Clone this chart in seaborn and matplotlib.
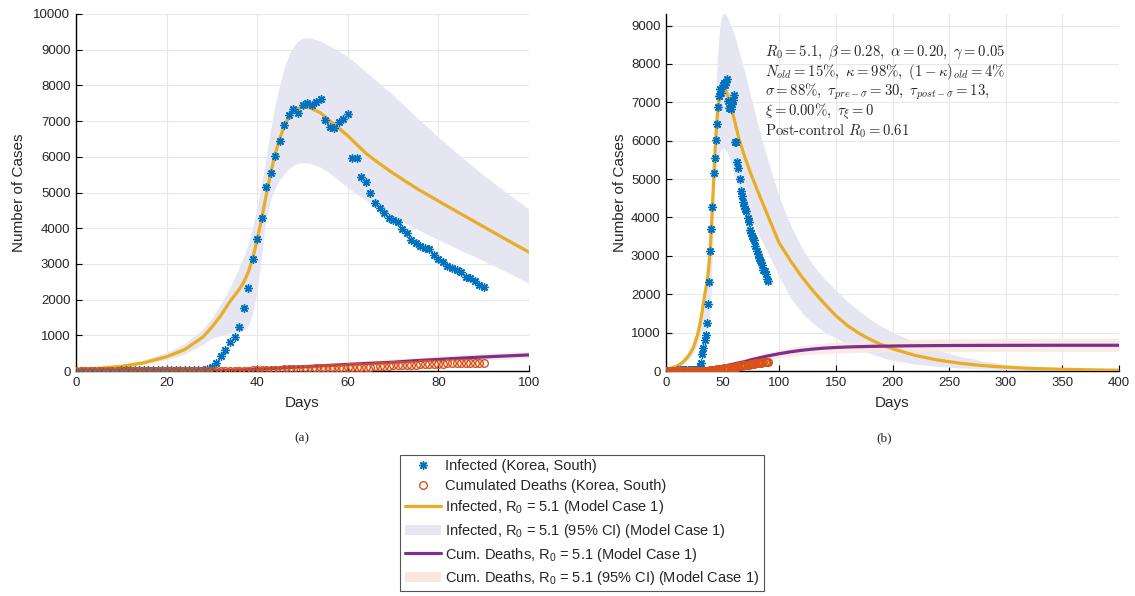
import numpy as np
import pandas as pd
import matplotlib
matplotlib.use("Agg")
import matplotlib.pyplot as plt
import seaborn as sns
from matplotlib.lines import Line2D
from matplotlib.patches import Patch

# ---------------- data ----------------
obs_days = list(range(0, 91))
infected_obs = [1, 1, 2, 2, 3, 4, 4, 4, 11, 12, 15, 15, 16, 19, 23, 24, 24, 25, 27, 28,
                28, 28, 28, 28, 29, 30, 31, 31, 31, 51,
                100, 215, 430, 600, 820, 950, 1240, 1755, 2315, 3130,
                3700, 4280, 5160, 5555, 6020, 6440, 6890, 7170, 7340, 7235,
                7450, 7500, 7450, 7540, 7610, 7030, 6845, 6815, 6965, 7050,
                7190, 5975, 5975, 5440, 5300, 4995, 4700, 4555, 4415, 4295,
                4230, 4175, 3985, 3875, 3670, 3595, 3510, 3455, 3415, 3250,
                3135, 3045, 2940, 2885, 2830, 2765, 2640, 2595, 2520, 2400,
                2345]
deaths_obs = [0] * 30 + [1, 2, 2, 6, 8, 10, 12, 13, 13, 16,
                         17, 28, 28, 35, 35, 42, 44, 50, 53, 54,
                         60, 66, 66, 72, 75, 75, 81, 84, 91, 94,
                         102, 104, 111, 111, 120, 126, 131, 139, 144, 152,
                         158, 162, 165, 169, 174, 177, 183, 186, 192, 200,
                         204, 208, 211, 214, 217, 222, 225, 229, 230, 232,
                         234]

model_days = [0, 5, 10, 15, 20, 24, 28, 30, 32, 34, 36,
              37, 38, 39, 40, 41, 42, 43, 44, 45, 46, 47, 48, 49, 50, 51, 52,
              54, 56, 58, 60, 62, 64, 66, 68, 70,
              75, 80, 85, 90, 95, 100,
              110, 120, 130, 140, 150, 160, 170, 180, 190, 200,
              220, 240, 260, 280, 300, 325, 350, 375, 400]
infected_model = [40, 75, 130, 230, 400, 600, 950, 1230, 1560, 1950, 2280,
                  2480, 2760, 3150, 3680, 4280, 4930, 5560, 6090, 6520, 6860, 7110, 7280, 7360, 7390, 7385, 7350,
                  7230, 7010, 6800, 6590, 6340, 6100, 5900, 5720, 5540,
                  5130, 4760, 4400, 4040, 3680, 3330,
                  2870, 2450, 2080, 1750, 1440, 1190, 990, 825, 690, 580,
                  405, 285, 200, 140, 100, 65, 45, 30, 20]
infected_upper = [60, 100, 170, 290, 500, 750, 1150, 1450, 1850, 2300, 2850,
                  3150, 3500, 3950, 4500, 5150, 5900, 6700, 7400, 7950, 8450, 8800, 9050, 9220, 9300, 9320, 9310,
                  9230, 9100, 8960, 8800, 8600, 8380, 8160, 7940, 7730,
                  7130, 6550, 6000, 5480, 5000, 4530,
                  3800, 3200, 2750, 2400, 2100, 1820, 1580, 1350, 1170, 1010,
                  750, 540, 380, 260, 170, 100, 60, 40, 25]
infected_lower = [25, 55, 95, 170, 300, 460, 720, 900, 980, 1040, 1080,
                  1120, 1200, 1550, 2150, 3150, 4200, 4750, 5100, 5330, 5500, 5640, 5740, 5800, 5820, 5815, 5790,
                  5700, 5540, 5340, 5130, 4950, 4780, 4610, 4450, 4300,
                  3980, 3670, 3370, 3080, 2770, 2450,
                  1900, 1520, 1230, 1020, 860, 700, 580, 460, 360, 280,
                  180, 120, 80, 55, 40, 25, 15, 10, 5]
deaths_model = [2, 3, 4, 5, 7, 9, 12, 15, 18, 22, 28,
                32, 37, 42, 48, 55, 62, 69, 76, 83, 90, 97, 104, 111, 118, 125, 132,
                145, 158, 171, 184, 197, 210, 222, 234, 246,
                290, 325, 360, 393, 422, 450,
                500, 540, 572, 596, 613, 625, 634, 641, 646, 651,
                658, 662, 665, 667, 668, 669, 670, 670, 670]
deaths_upper = [5, 6, 8, 10, 13, 16, 20, 24, 28, 34, 42,
                47, 53, 60, 68, 77, 86, 95, 104, 113, 122, 131, 140, 149, 158, 167, 176,
                193, 210, 227, 244, 261, 278, 294, 310, 326,
                366, 404, 442, 478, 512, 545,
                610, 660, 700, 730, 752, 770, 784, 795, 804, 811,
                822, 830, 836, 840, 843, 846, 848, 849, 850]
deaths_lower = [0, 1, 1, 2, 3, 4, 6, 8, 10, 12, 15,
                17, 20, 23, 27, 31, 36, 41, 46, 51, 56, 61, 67, 72, 78, 84, 90,
                101, 112, 123, 134, 145, 156, 167, 177, 187,
                213, 240, 266, 292, 315, 338,
                380, 412, 437, 455, 468, 478, 485, 491, 496, 500,
                505, 508, 510, 511, 512, 512, 513, 513, 513]

legend_labels = ["Infected (Korea, South)",
                 "Cumulated Deaths (Korea, South)",
                 r"Infected, $\mathregular{R_0}$ = 5.1 (Model Case 1)",
                 r"Infected, $\mathregular{R_0}$ = 5.1 (95% CI) (Model Case 1)",
                 r"Cum. Deaths, $\mathregular{R_0}$ = 5.1 (Model Case 1)",
                 r"Cum. Deaths, $\mathregular{R_0}$ = 5.1 (95% CI) (Model Case 1)"]

annotation = ("$R_0 = 5.1,\\ \\beta = 0.28,\\ \\alpha = 0.20,\\ \\gamma = 0.05$\n"
              "$N_{old} = 15\\%,\\ \\kappa = 98\\%,\\ (1-\\kappa)_{old} = 4\\%$\n"
              "$\\sigma = 88\\%,\\ \\tau_{pre-\\sigma} = 30,\\ \\tau_{post-\\sigma} = 13,$\n"
              "$\\xi = 0.00\\%,\\ \\tau_{\\xi} = 0$\n"
              "Post-control $R_0 = 0.61$")

# ---------------- style ----------------
BLUE = "#0072BD"
RED = "#D95319"
ORANGE = "#E9AC22"
PURPLE = "#7E2F8E"
LAV = "#E6E6F2"
PEACH = "#F9E7DF"

sns.set_theme(style="whitegrid")
plt.rcParams["font.family"] = ["Liberation Sans", "DejaVu Sans"]
plt.rcParams["mathtext.fontset"] = "cm"
plt.rcParams["grid.color"] = "#E8E8E8"
plt.rcParams["grid.linewidth"] = 0.8

fig = plt.figure(figsize=(11.35, 5.96), dpi=100)
W, H = 1135, 596
ax1 = fig.add_axes([76 / W, 1 - 371 / H, 453 / W, 357 / H])
ax2 = fig.add_axes([666 / W, 1 - 371 / H, 453 / W, 357 / H])


def draw(ax):
    ax.fill_between(model_days, infected_lower, infected_upper, color=LAV, lw=0, zorder=1)
    ax.fill_between(model_days, deaths_lower, deaths_upper, color=PEACH, lw=0, alpha=0.85, zorder=1)
    sns.lineplot(x=model_days, y=infected_model, ax=ax, color=ORANGE, lw=2.3,
                 estimator=None, sort=False, legend=False, zorder=3)
    sns.lineplot(x=model_days, y=deaths_model, ax=ax, color=PURPLE, lw=2.3,
                 estimator=None, sort=False, legend=False, zorder=3)
    sns.lineplot(x=obs_days, y=infected_obs, ax=ax, color=BLUE, linestyle="none",
                 marker=(8, 2, 0), markersize=6, markeredgewidth=1.0,
                 markeredgecolor=BLUE, estimator=None, sort=False, legend=False, zorder=4)
    sns.lineplot(x=obs_days, y=deaths_obs, ax=ax, color=RED, linestyle="none",
                 marker="o", markersize=5.5, markerfacecolor="none", markeredgewidth=1.0,
                 markeredgecolor=RED, estimator=None, sort=False, legend=False, zorder=4)
    ax.set_xlabel("Days", fontsize=11, labelpad=5)
    ax.set_ylabel("Number of Cases", fontsize=11)
    for s in ["top", "right"]:
        ax.spines[s].set_visible(False)
    for s in ["left", "bottom"]:
        ax.spines[s].set_color("black")
        ax.spines[s].set_linewidth(1.0)
    ax.tick_params(axis="both", direction="in", length=4, width=0.8, color="black",
                   labelsize=9.5, pad=4, left=True, bottom=True)
    ax.grid(True, color="#E8E8E8", lw=0.8)
    ax.set_axisbelow(True)


draw(ax1)
ax1.set_xlim(0, 100)
ax1.set_ylim(0, 10000)
ax1.set_xticks(range(0, 101, 20))
ax1.set_yticks(range(0, 10001, 1000))
ax1.yaxis.labelpad = 5

draw(ax2)
ax2.set_xlim(0, 400)
ax2.set_ylim(0, 9300)
ax2.set_xticks(range(0, 401, 50))
ax2.set_yticks(range(0, 9001, 1000))
ax2.yaxis.labelpad = 3

ax2.text(0.2185, 0.918, annotation, transform=ax2.transAxes, ha="left", va="top",
         fontsize=10.6, family="cmr10", linespacing=1.0, zorder=6)

fig.text(302 / W, 1 - 438 / H, "(a)", ha="center", va="center",
         family="Liberation Serif", fontsize=9.5)
fig.text(884 / W, 1 - 438 / H, "(b)", ha="center", va="center",
         family="Liberation Serif", fontsize=9.5)

handles = [
    Line2D([], [], ls="none", marker=(8, 2, 0), color=BLUE, mec=BLUE, ms=6, mew=1.0),
    Line2D([], [], ls="none", marker="o", mfc="none", mec=RED, ms=5.5, mew=1.0),
    Line2D([], [], color=ORANGE, lw=2.3),
    Patch(facecolor=LAV, edgecolor="none"),
    Line2D([], [], color=PURPLE, lw=2.3),
    Patch(facecolor=PEACH, edgecolor="none"),
]
leg = fig.legend(handles, legend_labels, loc="upper center",
                 bbox_to_anchor=(582 / W, 1 - 455 / H), fontsize=10.5,
                 frameon=True, fancybox=False, edgecolor="#555555", framealpha=1,
                 handlelength=2.5, handletextpad=0.3, labelspacing=0.38,
                 borderpad=0.3, borderaxespad=0)
leg.get_frame().set_linewidth(0.8)

fig.savefig("out.png", dpi=100)
